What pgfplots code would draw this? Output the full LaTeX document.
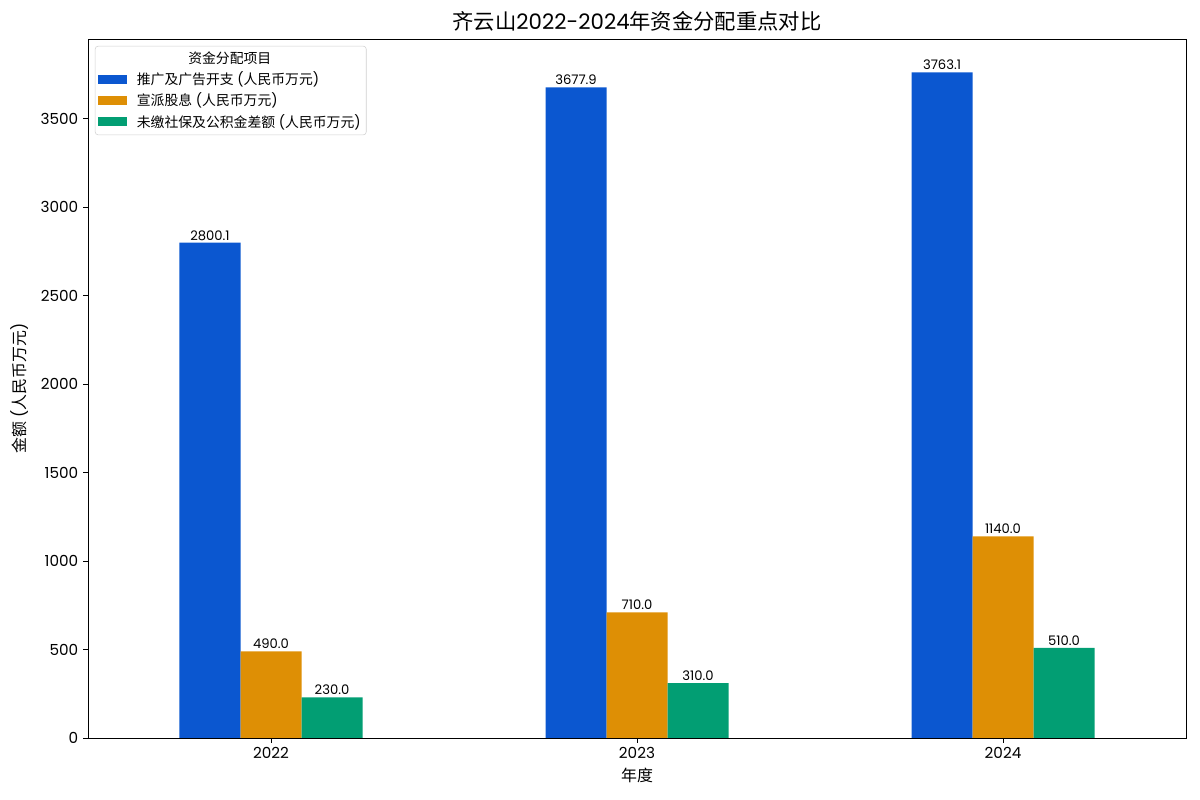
\documentclass[border=0pt]{standalone}
\usepackage{fontspec}
\setmainfont{Poppins}
\newfontfamily\cjk{Noto Sans CJK SC}
\usepackage{pgfplots}
\pgfplotsset{compat=1.18}
\definecolor{cblue}{HTML}{0B57D0}
\definecolor{corange}{HTML}{DE8F05}
\definecolor{cgreen}{HTML}{029E73}

\pgfplotsset{patch/.style={legend image code/.code={\fill[##1,draw=none,sharp corners] (0bp,-3.4bp) rectangle (21bp,3.4bp); \path (26bp,0bp);}}}

\begin{document}
\begin{tikzpicture}
\path[use as bounding box] (0bp,0bp) rectangle (864bp,576bp);
\begin{axis}[
  at={(63.36bp,44.64bp)}, anchor=south west,
  scale only axis, width=790.56bp, height=503.28bp,
  ybar=0pt, bar width=0.16667,
  xmin=-0.5, xmax=2.5, ymin=0, ymax=3951.3,
  xtick={0,1,2}, xticklabels={2022,2023,2024},
  ytick={0,500,...,3500},
  tick pos=left, tick align=outside, major tick length=3.5bp,
  tick style={black, line width=0.7bp},
  axis line style={line width=0.7bp},
  ticklabel style={font=\fontsize{11}{13}\selectfont},
  /pgf/number format/1000 sep={},
  /pgf/number format/assume math mode=true,
  title={{\cjk 齐云山}2022-2024{\cjk 年资金分配重点对比}},
  title style={font=\fontsize{15.4}{17}\selectfont, at={(0.5,1)}, anchor=south, yshift=-4bp},
  xlabel={\cjk 年度},
  xlabel style={font=\fontsize{11.5}{13}\selectfont, at={(axis description cs:0.5,0)}, anchor=center, yshift=-26.6bp},
  ylabel={{\cjk 金额} ({\cjk 人民币万元})},
  ylabel style={font=\fontsize{11.5}{13}\selectfont, at={(axis description cs:-0.062,0.5)}, anchor=center},
  nodes near coords={\pgfmathprintnumber[fixed,fixed zerofill,precision=1,1000 sep={},assume math mode=true]{\pgfplotspointmeta}},
  nodes near coords style={font=\fontsize{9.5}{11}\selectfont, inner sep=1.5bp, anchor=south},
  legend style={at={(0,1)}, anchor=north west, xshift=5bp, yshift=-5bp,
    draw=black!18, rounded corners=2bp, font=\fontsize{10}{12}\selectfont,
    cells={anchor=west}, row sep=0.5bp, inner sep=2bp},
]
\addlegendimage{empty legend}
\addlegendentry{\hspace*{37bp}\cjk 资金分配项目}

\addplot[fill=cblue, draw=none, patch] coordinates {(0,2800.1) (1,3677.9) (2,3763.1)};
\addlegendentry{{\cjk 推广及广告开支} ({\cjk 人民币万元})}

\addplot[fill=corange, draw=none, patch] coordinates {(0,490.0) (1,710.0) (2,1140.0)};
\addlegendentry{{\cjk 宣派股息} ({\cjk 人民币万元})}

\addplot[fill=cgreen, draw=none, patch] coordinates {(0,230.0) (1,310.0) (2,510.0)};
\addlegendentry{{\cjk 未缴社保及公积金差额} ({\cjk 人民币万元})}
\end{axis}
\end{tikzpicture}
\end{document}
